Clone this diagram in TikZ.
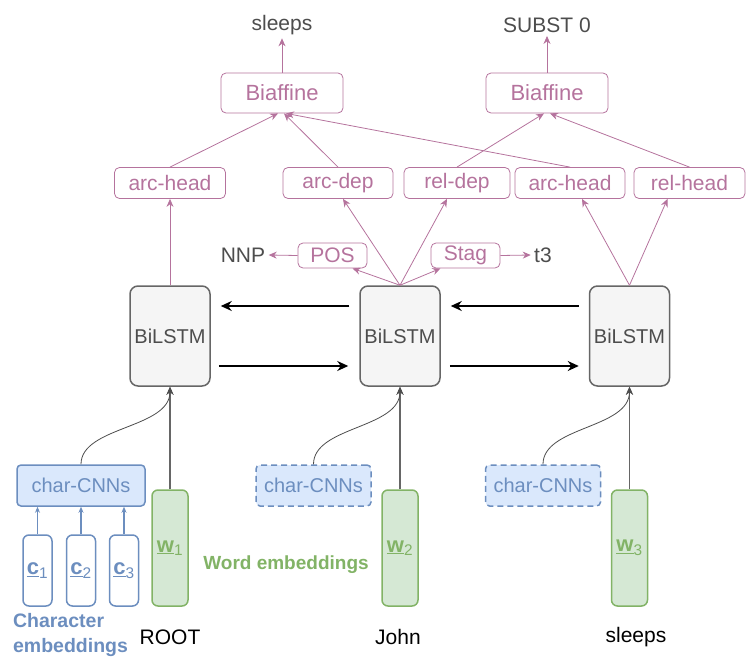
\documentclass[tikz,border=0pt]{standalone}
\usepackage{xcolor}
\usepackage{fontspec}
\setmainfont{Liberation Sans}
\usepackage{tikz}
\usetikzlibrary{positioning,arrows.meta}

\definecolor{pur}{HTML}{B5739D}
\definecolor{dark}{HTML}{4D4D4D}
\definecolor{lstmline}{HTML}{666666}
\definecolor{lstmfill}{HTML}{F5F5F5}
\definecolor{blueline}{HTML}{6C8EBF}
\definecolor{bluefill}{HTML}{DAE8FC}
\definecolor{greenline}{HTML}{82B366}
\definecolor{greenfill}{HTML}{D5E8D4}
\newcommand{\fsz}[1]{\fontsize{#1}{#1}\selectfont}

\begin{document}
\begin{tikzpicture}[x=1pt,y=-1pt,on grid,>={Stealth[length=8pt,width=7pt]}]
        \tikzstyle{lbl}=[draw=pur,line width=0.8pt,rounded corners=5pt,inner sep=0pt,minimum height=31pt,text=pur,font=\fsz{21}]
        \tikzstyle{lstm}=[draw=lstmline,fill=lstmfill,line width=1.5pt,rounded corners=8pt,minimum width=80pt,minimum height=100pt,text=dark,font=\fsz{20}]
        \tikzstyle{cnn}=[draw=blueline,fill=bluefill,line width=1.5pt,rounded corners=4pt,inner sep=0pt,minimum height=41pt,text=blueline,font=\fsz{20}]
        \tikzstyle{chr}=[draw=blueline,fill=white,line width=1.5pt,rounded corners=6pt,inner sep=0pt,minimum width=29pt,minimum height=71pt,text=blueline,font=\fsz{22}]
        \tikzstyle{wrd}=[draw=greenline,fill=greenfill,line width=1.5pt,rounded corners=6pt,inner sep=0pt,minimum width=36pt,minimum height=116pt,text=greenline,font=\fsz{22}]
        \tikzstyle{outtxt}=[text=dark,font=\fsz{21}]
        \tikzstyle{word}=[text=black,font=\fsz{21}]
        \tikzstyle{parr}=[->,draw=pur,line width=0.8pt]
        \tikzstyle{larr}=[-{Stealth[length=11pt,width=10pt]},line width=1.5pt]
        \tikzstyle{garr}=[->,draw=lstmline,line width=1.5pt]
        \tikzstyle{carr}=[->,draw=dark,line width=0.8pt]
        \useasboundingbox (0,0) rectangle (756,670);

        % BiLSTM layer
        \node[lstm] (L1) at (170,336) {BiLSTM};
        \node[lstm] (L2) [right=230pt of L1] {BiLSTM};
        \node[lstm] (L3) [right=229.5pt of L2] {BiLSTM};
        \draw[larr] ([shift={(-10pt,30pt)}]L2.west) -- ([shift={(10pt,30pt)}]L1.east);
        \draw[larr] ([shift={(-10pt,30pt)}]L3.west) -- ([shift={(10pt,30pt)}]L2.east);
        \draw[larr] ([shift={(8pt,-30pt)}]L1.east) -- ([shift={(-11pt,-30pt)}]L2.west);
        \draw[larr] ([shift={(9pt,-30pt)}]L2.east) -- ([shift={(-10pt,-30pt)}]L3.west);

        % inputs
        \node[wrd] (W1) [below=212pt of L1] {\textbf{\underline{w}}\textsubscript{1}};
        \node[wrd] (W2) [below=212pt of L2] {\textbf{\underline{w}}\textsubscript{2}};
        \node[wrd] (W3) [below=212pt of L3] {\textbf{\underline{w}}\textsubscript{3}};
        \node[cnn,minimum width=128pt] (C1) at (81,485.5) {char-CNNs};
        \node[cnn,minimum width=115pt,dash pattern=on 6pt off 4pt] (C2) at (313.5,485.5) {char-CNNs};
        \node[cnn,minimum width=115pt,dash pattern=on 6pt off 4pt] (C3) at (543,485.5) {char-CNNs};
        \node[chr] (c1) at (37.5,570.5) {\textbf{\underline{c}}\textsubscript{1}};
        \node[chr] (c2) [right=43.5pt of c1] {\textbf{\underline{c}}\textsubscript{2}};
        \node[chr] (c3) [right=43pt of c2] {\textbf{\underline{c}}\textsubscript{3}};
        \foreach \i in {1,2,3}
            \draw[->,draw=blueline,line width=1.5pt,>={Stealth[length=6pt,width=5pt]}] (c\i.north) -- (C1.south -| c\i.north);
        \foreach \i in {1,2,3} {
            \draw[garr] (W\i.north) -- (L\i.south);
            \draw[carr] (C\i.north) .. controls +(0pt,38pt) and +(0pt,-42pt) .. (L\i.south);
        }
        \node[word] (root) at (170,637) {ROOT};
        \node[word] (john) at (398,637) {John};
        \node[word] (slp) at (636,637) {sleeps};
        \node[text=greenline,font=\fsz{19}\bfseries] (we) at (286,565) {Word embeddings};
        \node[text=blueline,font=\fsz{19.5}\bfseries,align=left,inner sep=0pt] (ce) at (70.5,635) {Character\\[5pt]embeddings};

        % taggers
        \node[lbl,minimum width=69pt,minimum height=25pt] (POS) at (332.5,255.5) {POS};
        \node[lbl,minimum width=69pt,minimum height=25pt] (Stag) at (465.5,255.5) {Stag};
        \node[outtxt] (NNP) at (243,255) {NNP};
        \node[outtxt] (t3) at (543,255) {t3};
        \draw[parr] (POS.west) -- (NNP.east);
        \draw[parr] (Stag.east) -- (t3.west);

        % MLP layer
        \node[lbl,minimum width=111pt] (AH1) at (170,183) {arc-head};
        \node[lbl,minimum width=110pt] (AD) at (338,183) {arc-dep};
        \node[lbl,minimum width=106pt] (RD) at (457,183) {rel-dep};
        \node[lbl,minimum width=110pt] (AH2) at (570,183) {arc-head};
        \node[lbl,minimum width=111pt] (RH) at (689.5,183) {rel-head};
        \draw[parr] (L1.north) -- (AH1.south);
        \draw[parr] (L2.north) -- ([xshift=20pt]POS.south);
        \draw[parr] (L2.north) -- ([xshift=-25pt]Stag.south);
        \draw[parr] (L2.north) -- ([xshift=5pt]AD.south);
        \draw[parr] (L2.north) -- ([xshift=-10pt]RD.south);
        \draw[parr] (L3.north) -- ([xshift=12pt]AH2.south);
        \draw[parr] (L3.north) -- ([xshift=-22pt]RH.south);

        % biaffine
        \node[lbl,minimum width=122pt,minimum height=40pt,font=\fsz{22}] (B1) at (282,93) {Biaffine};
        \node[lbl,minimum width=122pt,minimum height=40pt,font=\fsz{22}] (B2) at (547,93) {Biaffine};
        \draw[parr] (AH1.north) -- ([xshift=-4pt]B1.south);
        \draw[parr] (AD.north) -- ([xshift=2pt]B1.south);
        \draw[parr] (AH2.north) -- ([xshift=4pt]B1.south);
        \draw[parr] (RD.north) -- ([xshift=-3pt]B2.south);
        \draw[parr] (RH.north) -- ([xshift=3pt]B2.south);
        \node[outtxt] (head) [above=68pt of B1] {sleeps};
        \node[outtxt] (rel) [above=68pt of B2] {SUBST 0};
        \draw[parr] (B1.north) -- (head.south);
        \draw[parr] (B2.north) -- (rel.south);
    \end{tikzpicture}
\end{document}
